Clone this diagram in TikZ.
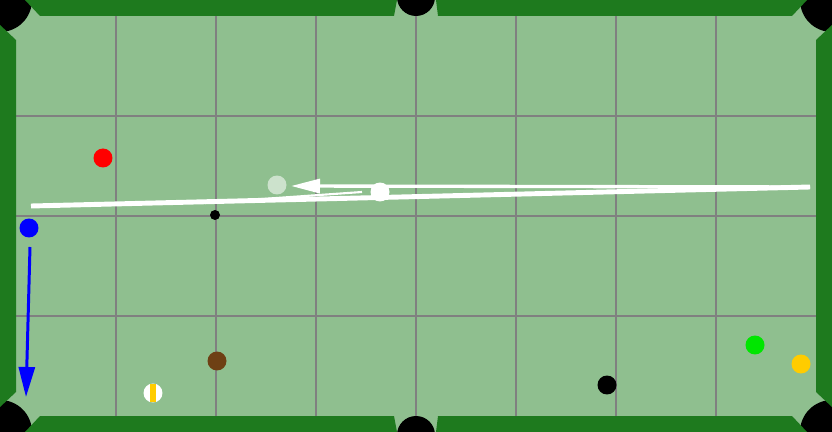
\documentclass[tikz,border=0pt]{standalone}
\usetikzlibrary{arrows.meta}
\definecolor{cloth}{RGB}{143,191,143}
\definecolor{rail}{RGB}{30,122,30}
\definecolor{gridgray}{RGB}{128,128,128}
\definecolor{brownball}{RGB}{110,64,20}
\definecolor{limeball}{RGB}{0,230,0}
\definecolor{goldball}{RGB}{255,204,0}

\begin{document}
\begin{tikzpicture}[
    x=0.02cm, y=-0.02cm,
    ball/.style={circle, minimum size=0.38cm, inner sep=0pt},
    pocket/.style={fill=black},
    railpart/.style={fill=rail},
    gridline/.style={gridgray, line width=1.2pt},
    shotline/.style={white, line width=2.8pt},
    aimarrow/.style={white, line width=1.9pt, -{Triangle[length=0.58cm, width=0.28cm]}},
    spinline/.style={white, line width=1.2pt},
    bluearrow/.style={blue, line width=1.7pt, -{Triangle[length=0.6cm, width=0.32cm]}}
]
\useasboundingbox (0,0) rectangle (832,432);
\clip (0,0) rectangle (832,432);
\fill[cloth] (0,0) rectangle (832,432);
\foreach \gx in {116,216,...,716}
    \draw[gridline] (\gx,16) -- (\gx,416);
\foreach \gy in {116,216,316}
    \draw[gridline] (16,\gy) -- (816,\gy);

\foreach \px/\py in {0/0, 832/0, 0/432, 832/432}
    \fill[pocket] (\px,\py) circle (32);
\fill[pocket] (416,-3) circle (19);
\fill[pocket] (416,435) circle (19);

\fill[railpart] (25,0) -- (397,0) -- (394,16) -- (40,16) -- cycle;
\fill[railpart] (436,0) -- (807,0) -- (792,16) -- (438,16) -- cycle;
\fill[railpart] (25,432) -- (397,432) -- (394,416) -- (40,416) -- cycle;
\fill[railpart] (436,432) -- (807,432) -- (792,416) -- (438,416) -- cycle;
\fill[railpart] (0,25) -- (16,40) -- (16,392) -- (0,407) -- cycle;
\fill[railpart] (832,25) -- (816,40) -- (816,392) -- (832,407) -- cycle;

\coordinate (bounce) at (31,206);
\coordinate (hit) at (810,187);
\coordinate (aim) at (291,186);
\coordinate (spinstart) at (205,203);
\coordinate (spinend) at (362,192);
\coordinate (bluestart) at (30,247);
\coordinate (blueend) at (26,397);

\draw[shotline] (bounce) -- (hit);
\draw[aimarrow] (hit) -- (aim);
\draw[spinline] (spinstart) -- (spinend);

\node[ball, fill=white, opacity=0.55] (ghost) at (277,185) {};
\node[ball, fill=white] (cue) at (380,192) {};
\node[ball, fill=red] (red) at (103,158) {};
\node[ball, fill=blue] (blueball) at (29,228) {};
\node[circle, fill=black, minimum size=0.2cm, inner sep=0pt] (dot) at (215,215) {};
\node[ball, fill=brownball] (brown) at (217,361) {};
\node[ball, fill=white, path picture={
    \fill[goldball] ([xshift=-0.06cm]path picture bounding box.south) rectangle ([xshift=0.06cm]path picture bounding box.north);
}] (stripe) at (153,393) {};
\node[ball, fill=black] (eight) at (607,385) {};
\node[ball, fill=limeball] (lime) at (755,345) {};
\node[ball, fill=goldball] (gold) at (801,364) {};

\draw[bluearrow] (bluestart) -- (blueend);
\end{tikzpicture}
\end{document}
